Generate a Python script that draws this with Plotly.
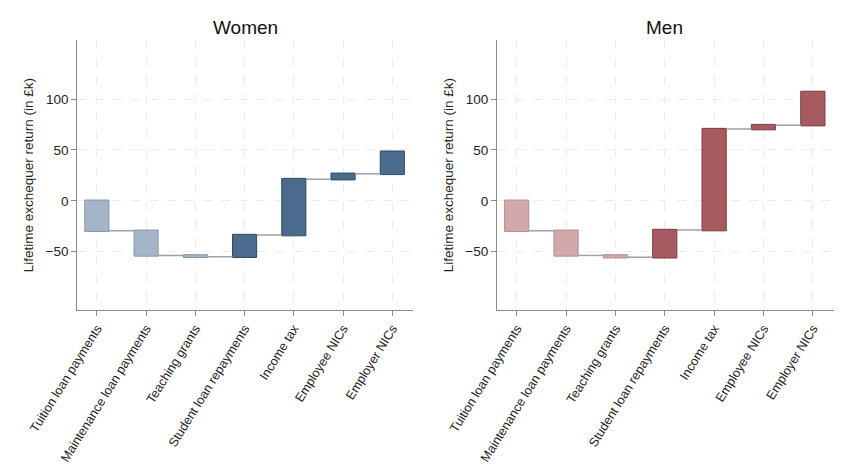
import plotly.graph_objects as go

categories = ["Tuition loan payments", "Maintenance loan payments", "Teaching grants",
              "Student loan repayments", "Income tax", "Employee NICs", "Employer NICs"]
women_values = [-29.5, -24.2, -1.3, 21.3, 55.0, 5.2, 21.7]
men_values = [-29.5, -24.2, -1.8, 26.7, 99.3, 3.9, 32.6]
y_ticks = [-50, 0, 50, 100]

FONT = "Liberation Sans, Arial, sans-serif"

fig = go.Figure()

def add_panel(values, light, light_edge, dark, dark_edge, xa, ya):
    fig.add_trace(go.Waterfall(
        x=categories, y=values, measure=["relative"] * len(values),
        xaxis=xa, yaxis=ya, width=0.49,
        decreasing=dict(marker=dict(color=light, line=dict(color=light_edge, width=1))),
        increasing=dict(marker=dict(color=dark, line=dict(color=dark_edge, width=1))),
        connector=dict(line=dict(color="#a0a0a0", width=1.5), mode="between"),
        showlegend=False, hoverinfo="x+y",
    ))

add_panel(women_values, "#a3b5c7", "#8597aa", "#4a6b8b", "#2e4a66", "x", "y")
add_panel(men_values, "#d3a8ab", "#b98d91", "#a65b61", "#7a3a40", "x2", "y2")

xcommon = dict(
    tickangle=-58, range=[-0.4, 6.42], showline=True, linecolor="#8a8a8a", linewidth=1,
    ticks="outside", ticklen=5, tickcolor="#8a8a8a", automargin=False,
    showgrid=True, gridcolor="#ececec", griddash="dash", gridwidth=1,
    tickfont=dict(size=12.7, color="#222", family=FONT), zeroline=False,
)
ycommon = dict(
    range=[-107.5, 158], tickvals=y_ticks, showline=True, linecolor="#8a8a8a", linewidth=1,
    ticks="outside", ticklen=5, tickcolor="#8a8a8a", automargin=False,
    showgrid=True, gridcolor="#ececec", griddash="dash", gridwidth=1, zeroline=False,
    tickfont=dict(size=13.5, color="#222", family=FONT),
    title=dict(text="Lifetime exchequer return (in £k)", font=dict(size=13.5, color="#222", family=FONT), standoff=8),
)

fig.update_layout(
    width=848, height=472, margin=dict(l=0, r=0, t=0, b=0),
    paper_bgcolor="white", plot_bgcolor="white",
    font=dict(family=FONT),
    xaxis=dict(domain=[0.091, 0.487], anchor="y", **xcommon),
    yaxis=dict(domain=[0.343, 0.915], anchor="x", **ycommon),
    xaxis2=dict(domain=[0.586, 0.983], anchor="y2", **xcommon),
    yaxis2=dict(domain=[0.343, 0.915], anchor="x2", **ycommon),
    annotations=[
        dict(text="Women", x=0.289, y=1 - 28 / 472, xref="paper", yref="paper",
             xanchor="center", yanchor="middle",
             showarrow=False, font=dict(size=19, color="#111", family=FONT)),
        dict(text="Men", x=0.784, y=1 - 28 / 472, xref="paper", yref="paper",
             xanchor="center", yanchor="middle",
             showarrow=False, font=dict(size=19, color="#111", family=FONT)),
    ],
)

fig.write_html("out.html")
